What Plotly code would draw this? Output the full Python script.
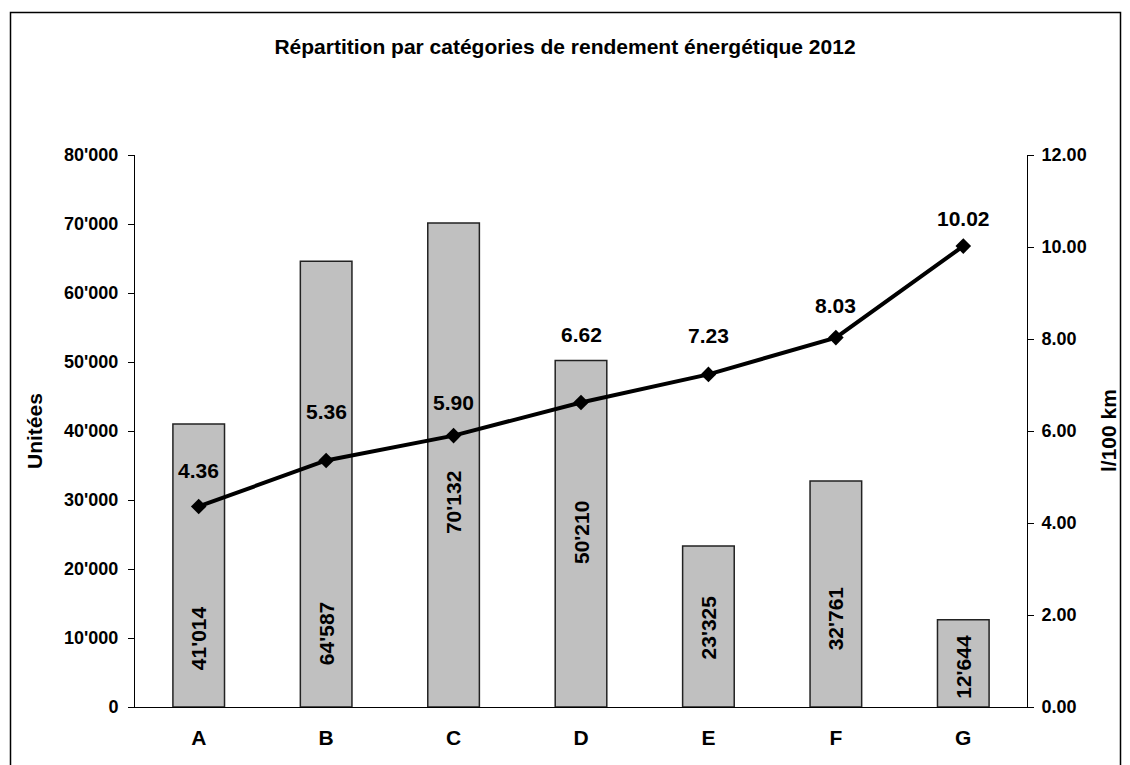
import plotly.graph_objects as go

categories = ["A", "B", "C", "D", "E", "F", "G"]
units = [41014, 64587, 70132, 50210, 23325, 32761, 12644]
consumption = [4.36, 5.36, 5.90, 6.62, 7.23, 8.03, 10.02]
# label anchor positions (data units) as placed in the original chart
unit_label_y = [9928, 10580, 29638, 25217, 11594, 12826, 5870]
cons_label_y = [5.15, 6.43, 6.63, 8.09, 8.07, 8.72, 10.61]

left_ticks = list(range(0, 80001, 10000))
right_ticks = [0, 2, 4, 6, 8, 10, 12]
boundaries = [i - 0.5 for i in range(len(categories) + 1)]

FONT = "Arial, Liberation Sans, sans-serif"
W, H = 1122, 757
L, T, PW, PH = 127, 147, 892, 552

def fmt_units(v):
    return f"{v:,}".replace(",", "'")

fig = go.Figure()
fig.add_trace(go.Bar(
    x=list(range(len(categories))), y=units,
    marker=dict(color="#c0c0c0", line=dict(color="#222222", width=1.5)),
    showlegend=False, hoverinfo="skip",
))
fig.add_trace(go.Scatter(
    x=list(range(len(categories))), y=consumption, yaxis="y2",
    mode="lines+markers",
    line=dict(color="black", width=4),
    marker=dict(symbol="diamond", size=12, color="black"),
    showlegend=False, hoverinfo="skip",
))

annotations = []
for i, (v, ly) in enumerate(zip(units, unit_label_y)):
    annotations.append(dict(
        x=i, y=ly, xref="x", yref="y", text="<b>" + fmt_units(v) + "</b>", showarrow=False,
        textangle=-90, font=dict(family=FONT, size=21, color="black"),
        xanchor="center", yanchor="middle",
    ))
for i, (v, ly) in enumerate(zip(consumption, cons_label_y)):
    annotations.append(dict(
        x=i, y=ly, xref="x", yref="y2", text=f"<b>{v:.2f}</b>", showarrow=False,
        font=dict(family=FONT, size=21, color="black"),
        xanchor="center", yanchor="middle",
    ))
annotations.append(dict(
    x=(34 - 135) / PW, y=0.5, xref="paper", yref="paper", text="<b>Unitées</b>",
    textangle=-90, showarrow=False, font=dict(family=FONT, size=21, color="black"),
    xanchor="center", yanchor="middle",
))
annotations.append(dict(
    x=(1108 - 135) / PW, y=0.5, xref="paper", yref="paper", text="<b>l/100 km</b>",
    textangle=-90, showarrow=False, font=dict(family=FONT, size=21, color="black"),
    xanchor="center", yanchor="middle",
))

axis_common = dict(showgrid=False, zeroline=False, color="black")

fig.update_layout(
    width=W, height=H,
    margin=dict(l=L, r=W - L - PW, t=T, b=H - T - PH),
    paper_bgcolor="white", plot_bgcolor="white",
    separators=".'",
    bargap=0.595,
    font=dict(family=FONT, color="black"),
    title=dict(
        text="<b>Répartition par catégories de rendement énergétique 2012</b>",
        x=(565 - 8) / W, xref="container", xanchor="center",
        y=1 - 39 / H, yref="container", yanchor="middle",
        font=dict(family=FONT, size=21, color="black"),
    ),
    xaxis=dict(
        **axis_common, range=[-0.5, 6.5],
        tickvals=list(range(len(categories))), ticktext=[f"<b>{c}</b>" for c in categories],
        ticks="", showline=True, linecolor="black", linewidth=1,
        tickfont=dict(family=FONT, size=21), ticklabelstandoff=12,
    ),
    xaxis2=dict(
        **axis_common, overlaying="x", anchor="y", range=[-0.5, 6.5],
        tickvals=boundaries, ticks="outside", ticklen=6, tickcolor="black",
        showticklabels=False, showline=False,
    ),
    xaxis3=dict(
        **axis_common, overlaying="x", anchor="y", range=[-0.5, 6.5],
        tickvals=boundaries, ticks="inside", ticklen=7, tickcolor="black",
        showticklabels=False, showline=False,
    ),
    yaxis=dict(
        **axis_common, range=[0, 80000], tickvals=left_ticks,
        tickformat=",", ticks="outside", ticklen=6, tickcolor="black",
        showline=True, linecolor="black", linewidth=1,
        tickfont=dict(family=FONT, size=18, weight="bold"), ticklabelstandoff=6,
    ),
    yaxis3=dict(
        **axis_common, overlaying="y", anchor="x", side="left", range=[0, 80000],
        tickvals=left_ticks, ticks="inside", ticklen=7, tickcolor="black",
        showticklabels=False, showline=False,
    ),
    yaxis2=dict(
        **axis_common, overlaying="y", side="right", anchor="x", range=[0, 12],
        tickvals=right_ticks, tickformat=".2f", ticks="outside", ticklen=6,
        tickcolor="black", showline=True, linecolor="black", linewidth=1,
        tickfont=dict(family=FONT, size=18, weight="bold"), ticklabelstandoff=4,
    ),
    yaxis4=dict(
        **axis_common, overlaying="y", side="right", anchor="x", range=[0, 12],
        tickvals=right_ticks, ticks="inside", ticklen=7, tickcolor="black",
        showticklabels=False, showline=False,
    ),
    annotations=annotations,
    shapes=[dict(
        type="rect", xref="paper", yref="paper",
        x0=(10.5 - 135) / PW, x1=(1120.5 - 135) / PW,
        y0=(707 - 775) / PH, y1=(707 - 12.5) / PH,
        line=dict(color="black", width=1.5), fillcolor="rgba(0,0,0,0)",
        layer="below",
    )],
)

fig.write_html("out.html")
